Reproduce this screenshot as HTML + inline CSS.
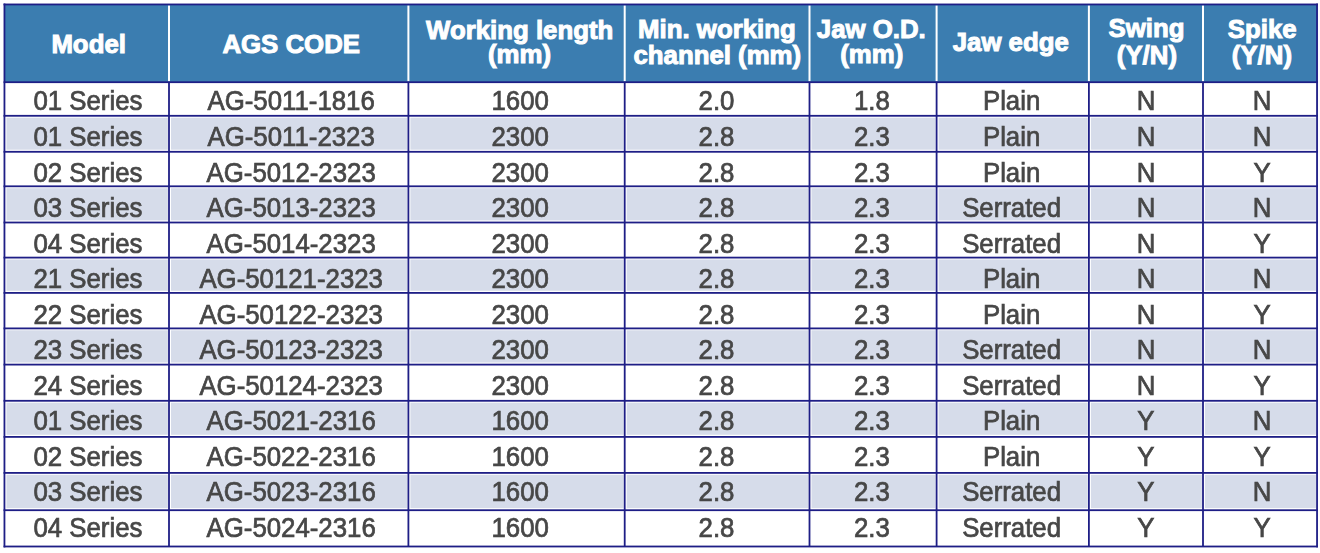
<!DOCTYPE html>
<html><head><meta charset="utf-8"><style>
html,body{margin:0;padding:0;background:#fff;}
#w{position:relative;width:1320px;height:553px;overflow:hidden;background:#fff;}
svg{position:absolute;left:0;top:0;}
svg{filter:blur(0.35px);}
text{font-family:"Liberation Sans",sans-serif;text-anchor:middle;}
.b{font-size:25.8px;fill:#474747;stroke:#474747;stroke-width:0.7px;}
.h{font-size:25.8px;font-weight:bold;fill:#fff;stroke:#fff;stroke-width:1.0px;}
</style></head><body><div id="w">
<svg width="1320" height="553" viewBox="0 0 1320 553">
<rect x="4.45" y="4.45" width="1312.60" height="77.75" fill="#3b7db0"/>
<rect x="6.45" y="117.70" width="161.45" height="32.00" fill="#d6dcea"/>
<rect x="171.00" y="117.70" width="236.30" height="32.00" fill="#d6dcea"/>
<rect x="410.40" y="117.70" width="213.20" height="32.00" fill="#d6dcea"/>
<rect x="626.70" y="117.70" width="181.70" height="32.00" fill="#d6dcea"/>
<rect x="811.50" y="117.70" width="124.00" height="32.00" fill="#d6dcea"/>
<rect x="938.60" y="117.70" width="149.20" height="32.00" fill="#d6dcea"/>
<rect x="1090.90" y="117.70" width="111.00" height="32.00" fill="#d6dcea"/>
<rect x="1205.00" y="117.70" width="110.95" height="32.00" fill="#d6dcea"/>
<rect x="6.45" y="188.20" width="161.45" height="32.20" fill="#d6dcea"/>
<rect x="171.00" y="188.20" width="236.30" height="32.20" fill="#d6dcea"/>
<rect x="410.40" y="188.20" width="213.20" height="32.20" fill="#d6dcea"/>
<rect x="626.70" y="188.20" width="181.70" height="32.20" fill="#d6dcea"/>
<rect x="811.50" y="188.20" width="124.00" height="32.20" fill="#d6dcea"/>
<rect x="938.60" y="188.20" width="149.20" height="32.20" fill="#d6dcea"/>
<rect x="1090.90" y="188.20" width="111.00" height="32.20" fill="#d6dcea"/>
<rect x="1205.00" y="188.20" width="110.95" height="32.20" fill="#d6dcea"/>
<rect x="6.45" y="259.50" width="161.45" height="31.30" fill="#d6dcea"/>
<rect x="171.00" y="259.50" width="236.30" height="31.30" fill="#d6dcea"/>
<rect x="410.40" y="259.50" width="213.20" height="31.30" fill="#d6dcea"/>
<rect x="626.70" y="259.50" width="181.70" height="31.30" fill="#d6dcea"/>
<rect x="811.50" y="259.50" width="124.00" height="31.30" fill="#d6dcea"/>
<rect x="938.60" y="259.50" width="149.20" height="31.30" fill="#d6dcea"/>
<rect x="1090.90" y="259.50" width="111.00" height="31.30" fill="#d6dcea"/>
<rect x="1205.00" y="259.50" width="110.95" height="31.30" fill="#d6dcea"/>
<rect x="6.45" y="330.30" width="161.45" height="32.20" fill="#d6dcea"/>
<rect x="171.00" y="330.30" width="236.30" height="32.20" fill="#d6dcea"/>
<rect x="410.40" y="330.30" width="213.20" height="32.20" fill="#d6dcea"/>
<rect x="626.70" y="330.30" width="181.70" height="32.20" fill="#d6dcea"/>
<rect x="811.50" y="330.30" width="124.00" height="32.20" fill="#d6dcea"/>
<rect x="938.60" y="330.30" width="149.20" height="32.20" fill="#d6dcea"/>
<rect x="1090.90" y="330.30" width="111.00" height="32.20" fill="#d6dcea"/>
<rect x="1205.00" y="330.30" width="110.95" height="32.20" fill="#d6dcea"/>
<rect x="6.45" y="402.70" width="161.45" height="32.10" fill="#d6dcea"/>
<rect x="171.00" y="402.70" width="236.30" height="32.10" fill="#d6dcea"/>
<rect x="410.40" y="402.70" width="213.20" height="32.10" fill="#d6dcea"/>
<rect x="626.70" y="402.70" width="181.70" height="32.10" fill="#d6dcea"/>
<rect x="811.50" y="402.70" width="124.00" height="32.10" fill="#d6dcea"/>
<rect x="938.60" y="402.70" width="149.20" height="32.10" fill="#d6dcea"/>
<rect x="1090.90" y="402.70" width="111.00" height="32.10" fill="#d6dcea"/>
<rect x="1205.00" y="402.70" width="110.95" height="32.10" fill="#d6dcea"/>
<rect x="6.45" y="474.80" width="161.45" height="33.30" fill="#d6dcea"/>
<rect x="171.00" y="474.80" width="236.30" height="33.30" fill="#d6dcea"/>
<rect x="410.40" y="474.80" width="213.20" height="33.30" fill="#d6dcea"/>
<rect x="626.70" y="474.80" width="181.70" height="33.30" fill="#d6dcea"/>
<rect x="811.50" y="474.80" width="124.00" height="33.30" fill="#d6dcea"/>
<rect x="938.60" y="474.80" width="149.20" height="33.30" fill="#d6dcea"/>
<rect x="1090.90" y="474.80" width="111.00" height="33.30" fill="#d6dcea"/>
<rect x="1205.00" y="474.80" width="110.95" height="33.30" fill="#d6dcea"/>
<rect x="168.00" y="5.35" width="2" height="75.95" fill="#fff"/>
<rect x="407.40" y="5.35" width="2" height="75.95" fill="#fff"/>
<rect x="623.70" y="5.35" width="2" height="75.95" fill="#fff"/>
<rect x="808.50" y="5.35" width="2" height="75.95" fill="#fff"/>
<rect x="935.60" y="5.35" width="2" height="75.95" fill="#fff"/>
<rect x="1087.90" y="5.35" width="2" height="75.95" fill="#fff"/>
<rect x="1202.00" y="5.35" width="2" height="75.95" fill="#fff"/>
<rect x="168.10" y="82.20" width="1.8" height="464.30" fill="#1e1e86"/>
<rect x="407.50" y="82.20" width="1.8" height="464.30" fill="#1e1e86"/>
<rect x="623.80" y="82.20" width="1.8" height="464.30" fill="#1e1e86"/>
<rect x="808.60" y="82.20" width="1.8" height="464.30" fill="#1e1e86"/>
<rect x="935.70" y="82.20" width="1.8" height="464.30" fill="#1e1e86"/>
<rect x="1088.00" y="82.20" width="1.8" height="464.30" fill="#1e1e86"/>
<rect x="1202.10" y="82.20" width="1.8" height="464.30" fill="#1e1e86"/>
<rect x="3.55" y="3.55" width="1314.40" height="1.8" fill="#1e1e86"/>
<rect x="3.55" y="81.30" width="1314.40" height="1.8" fill="#1e1e86"/>
<rect x="3.55" y="114.90" width="1314.40" height="1.8" fill="#1e1e86"/>
<rect x="3.55" y="150.90" width="1314.40" height="1.8" fill="#1e1e86"/>
<rect x="3.55" y="185.40" width="1314.40" height="1.8" fill="#1e1e86"/>
<rect x="3.55" y="221.60" width="1314.40" height="1.8" fill="#1e1e86"/>
<rect x="3.55" y="256.70" width="1314.40" height="1.8" fill="#1e1e86"/>
<rect x="3.55" y="292.00" width="1314.40" height="1.8" fill="#1e1e86"/>
<rect x="3.55" y="327.50" width="1314.40" height="1.8" fill="#1e1e86"/>
<rect x="3.55" y="363.70" width="1314.40" height="1.8" fill="#1e1e86"/>
<rect x="3.55" y="399.90" width="1314.40" height="1.8" fill="#1e1e86"/>
<rect x="3.55" y="436.00" width="1314.40" height="1.8" fill="#1e1e86"/>
<rect x="3.55" y="472.00" width="1314.40" height="1.8" fill="#1e1e86"/>
<rect x="3.55" y="509.30" width="1314.40" height="1.8" fill="#1e1e86"/>
<rect x="3.55" y="545.60" width="1314.40" height="1.8" fill="#1e1e86"/>
<rect x="3.55" y="3.55" width="1.8" height="543.85" fill="#1e1e86"/>
<rect x="1316.15" y="3.55" width="1.8" height="543.85" fill="#1e1e86"/>
<text class="h" transform="translate(88.65 52.60) scale(1 1.0)">Model</text>
<text class="h" transform="translate(291.20 52.90) scale(1 1.0)">AGS CODE</text>
<text class="h" transform="translate(519.65 38.80) scale(1 1.0)">Working length</text>
<text class="h" transform="translate(519.55 62.50) scale(1 1.0)">(mm)</text>
<text class="h" transform="translate(716.95 37.60) scale(1 1.0)">Min. working</text>
<text class="h" transform="translate(717.30 64.40) scale(1 1.0)">channel (mm)</text>
<text class="h" transform="translate(871.30 37.50) scale(1 1.0)">Jaw O.D.</text>
<text class="h" transform="translate(871.70 63.40) scale(1 1.0)">(mm)</text>
<text class="h" transform="translate(1010.75 50.90) scale(1 1.0)">Jaw edge</text>
<text class="h" transform="translate(1146.55 37.30) scale(1 1.0)">Swing</text>
<text class="h" transform="translate(1146.90 64.10) scale(1 1.0)">(Y/N)</text>
<text class="h" transform="translate(1262.20 37.80) scale(1 1.0)">Spike</text>
<text class="h" transform="translate(1261.90 64.40) scale(1 1.0)">(Y/N)</text>
<text class="b" transform="translate(87.92 110.40) scale(1 1.05)">01 Series</text>
<text class="b" transform="translate(291.15 110.40) scale(1 1.05)">AG-5011-1816</text>
<text class="b" transform="translate(520.15 110.40) scale(1 1.05)">1600</text>
<text class="b" transform="translate(716.50 110.40) scale(1 1.05)">2.0</text>
<text class="b" transform="translate(871.95 110.40) scale(1 1.05)">1.8</text>
<text class="b" transform="translate(1011.60 110.40) scale(1 1.05)">Plain</text>
<text class="b" transform="translate(1145.95 110.40) scale(1 1.05)">N</text>
<text class="b" transform="translate(1262.03 110.40) scale(1 1.05)">N</text>
<text class="b" transform="translate(87.92 145.95) scale(1 1.05)">01 Series</text>
<text class="b" transform="translate(291.15 145.95) scale(1 1.05)">AG-5011-2323</text>
<text class="b" transform="translate(520.15 145.95) scale(1 1.05)">2300</text>
<text class="b" transform="translate(716.50 145.95) scale(1 1.05)">2.8</text>
<text class="b" transform="translate(871.95 145.95) scale(1 1.05)">2.3</text>
<text class="b" transform="translate(1011.60 145.95) scale(1 1.05)">Plain</text>
<text class="b" transform="translate(1145.95 145.95) scale(1 1.05)">N</text>
<text class="b" transform="translate(1262.03 145.95) scale(1 1.05)">N</text>
<text class="b" transform="translate(87.92 181.50) scale(1 1.05)">02 Series</text>
<text class="b" transform="translate(291.15 181.50) scale(1 1.05)">AG-5012-2323</text>
<text class="b" transform="translate(520.15 181.50) scale(1 1.05)">2300</text>
<text class="b" transform="translate(716.50 181.50) scale(1 1.05)">2.8</text>
<text class="b" transform="translate(871.95 181.50) scale(1 1.05)">2.3</text>
<text class="b" transform="translate(1011.60 181.50) scale(1 1.05)">Plain</text>
<text class="b" transform="translate(1145.95 181.50) scale(1 1.05)">N</text>
<text class="b" transform="translate(1262.03 181.50) scale(1 1.05)">Y</text>
<text class="b" transform="translate(87.92 217.05) scale(1 1.05)">03 Series</text>
<text class="b" transform="translate(291.15 217.05) scale(1 1.05)">AG-5013-2323</text>
<text class="b" transform="translate(520.15 217.05) scale(1 1.05)">2300</text>
<text class="b" transform="translate(716.50 217.05) scale(1 1.05)">2.8</text>
<text class="b" transform="translate(871.95 217.05) scale(1 1.05)">2.3</text>
<text class="b" transform="translate(1011.60 217.05) scale(1 1.05)">Serrated</text>
<text class="b" transform="translate(1145.95 217.05) scale(1 1.05)">N</text>
<text class="b" transform="translate(1262.03 217.05) scale(1 1.05)">N</text>
<text class="b" transform="translate(87.92 252.60) scale(1 1.05)">04 Series</text>
<text class="b" transform="translate(291.15 252.60) scale(1 1.05)">AG-5014-2323</text>
<text class="b" transform="translate(520.15 252.60) scale(1 1.05)">2300</text>
<text class="b" transform="translate(716.50 252.60) scale(1 1.05)">2.8</text>
<text class="b" transform="translate(871.95 252.60) scale(1 1.05)">2.3</text>
<text class="b" transform="translate(1011.60 252.60) scale(1 1.05)">Serrated</text>
<text class="b" transform="translate(1145.95 252.60) scale(1 1.05)">N</text>
<text class="b" transform="translate(1262.03 252.60) scale(1 1.05)">Y</text>
<text class="b" transform="translate(87.92 288.15) scale(1 1.05)">21 Series</text>
<text class="b" transform="translate(291.15 288.15) scale(1 1.05)">AG-50121-2323</text>
<text class="b" transform="translate(520.15 288.15) scale(1 1.05)">2300</text>
<text class="b" transform="translate(716.50 288.15) scale(1 1.05)">2.8</text>
<text class="b" transform="translate(871.95 288.15) scale(1 1.05)">2.3</text>
<text class="b" transform="translate(1011.60 288.15) scale(1 1.05)">Plain</text>
<text class="b" transform="translate(1145.95 288.15) scale(1 1.05)">N</text>
<text class="b" transform="translate(1262.03 288.15) scale(1 1.05)">N</text>
<text class="b" transform="translate(87.92 323.70) scale(1 1.05)">22 Series</text>
<text class="b" transform="translate(291.15 323.70) scale(1 1.05)">AG-50122-2323</text>
<text class="b" transform="translate(520.15 323.70) scale(1 1.05)">2300</text>
<text class="b" transform="translate(716.50 323.70) scale(1 1.05)">2.8</text>
<text class="b" transform="translate(871.95 323.70) scale(1 1.05)">2.3</text>
<text class="b" transform="translate(1011.60 323.70) scale(1 1.05)">Plain</text>
<text class="b" transform="translate(1145.95 323.70) scale(1 1.05)">N</text>
<text class="b" transform="translate(1262.03 323.70) scale(1 1.05)">Y</text>
<text class="b" transform="translate(87.92 359.25) scale(1 1.05)">23 Series</text>
<text class="b" transform="translate(291.15 359.25) scale(1 1.05)">AG-50123-2323</text>
<text class="b" transform="translate(520.15 359.25) scale(1 1.05)">2300</text>
<text class="b" transform="translate(716.50 359.25) scale(1 1.05)">2.8</text>
<text class="b" transform="translate(871.95 359.25) scale(1 1.05)">2.3</text>
<text class="b" transform="translate(1011.60 359.25) scale(1 1.05)">Serrated</text>
<text class="b" transform="translate(1145.95 359.25) scale(1 1.05)">N</text>
<text class="b" transform="translate(1262.03 359.25) scale(1 1.05)">N</text>
<text class="b" transform="translate(87.92 394.80) scale(1 1.05)">24 Series</text>
<text class="b" transform="translate(291.15 394.80) scale(1 1.05)">AG-50124-2323</text>
<text class="b" transform="translate(520.15 394.80) scale(1 1.05)">2300</text>
<text class="b" transform="translate(716.50 394.80) scale(1 1.05)">2.8</text>
<text class="b" transform="translate(871.95 394.80) scale(1 1.05)">2.3</text>
<text class="b" transform="translate(1011.60 394.80) scale(1 1.05)">Serrated</text>
<text class="b" transform="translate(1145.95 394.80) scale(1 1.05)">N</text>
<text class="b" transform="translate(1262.03 394.80) scale(1 1.05)">Y</text>
<text class="b" transform="translate(87.92 430.35) scale(1 1.05)">01 Series</text>
<text class="b" transform="translate(291.15 430.35) scale(1 1.05)">AG-5021-2316</text>
<text class="b" transform="translate(520.15 430.35) scale(1 1.05)">1600</text>
<text class="b" transform="translate(716.50 430.35) scale(1 1.05)">2.8</text>
<text class="b" transform="translate(871.95 430.35) scale(1 1.05)">2.3</text>
<text class="b" transform="translate(1011.60 430.35) scale(1 1.05)">Plain</text>
<text class="b" transform="translate(1145.95 430.35) scale(1 1.05)">Y</text>
<text class="b" transform="translate(1262.03 430.35) scale(1 1.05)">N</text>
<text class="b" transform="translate(87.92 465.90) scale(1 1.05)">02 Series</text>
<text class="b" transform="translate(291.15 465.90) scale(1 1.05)">AG-5022-2316</text>
<text class="b" transform="translate(520.15 465.90) scale(1 1.05)">1600</text>
<text class="b" transform="translate(716.50 465.90) scale(1 1.05)">2.8</text>
<text class="b" transform="translate(871.95 465.90) scale(1 1.05)">2.3</text>
<text class="b" transform="translate(1011.60 465.90) scale(1 1.05)">Plain</text>
<text class="b" transform="translate(1145.95 465.90) scale(1 1.05)">Y</text>
<text class="b" transform="translate(1262.03 465.90) scale(1 1.05)">Y</text>
<text class="b" transform="translate(87.92 501.45) scale(1 1.05)">03 Series</text>
<text class="b" transform="translate(291.15 501.45) scale(1 1.05)">AG-5023-2316</text>
<text class="b" transform="translate(520.15 501.45) scale(1 1.05)">1600</text>
<text class="b" transform="translate(716.50 501.45) scale(1 1.05)">2.8</text>
<text class="b" transform="translate(871.95 501.45) scale(1 1.05)">2.3</text>
<text class="b" transform="translate(1011.60 501.45) scale(1 1.05)">Serrated</text>
<text class="b" transform="translate(1145.95 501.45) scale(1 1.05)">Y</text>
<text class="b" transform="translate(1262.03 501.45) scale(1 1.05)">N</text>
<text class="b" transform="translate(87.92 537.00) scale(1 1.05)">04 Series</text>
<text class="b" transform="translate(291.15 537.00) scale(1 1.05)">AG-5024-2316</text>
<text class="b" transform="translate(520.15 537.00) scale(1 1.05)">1600</text>
<text class="b" transform="translate(716.50 537.00) scale(1 1.05)">2.8</text>
<text class="b" transform="translate(871.95 537.00) scale(1 1.05)">2.3</text>
<text class="b" transform="translate(1011.60 537.00) scale(1 1.05)">Serrated</text>
<text class="b" transform="translate(1145.95 537.00) scale(1 1.05)">Y</text>
<text class="b" transform="translate(1262.03 537.00) scale(1 1.05)">Y</text>
</svg>
</div></body></html>
